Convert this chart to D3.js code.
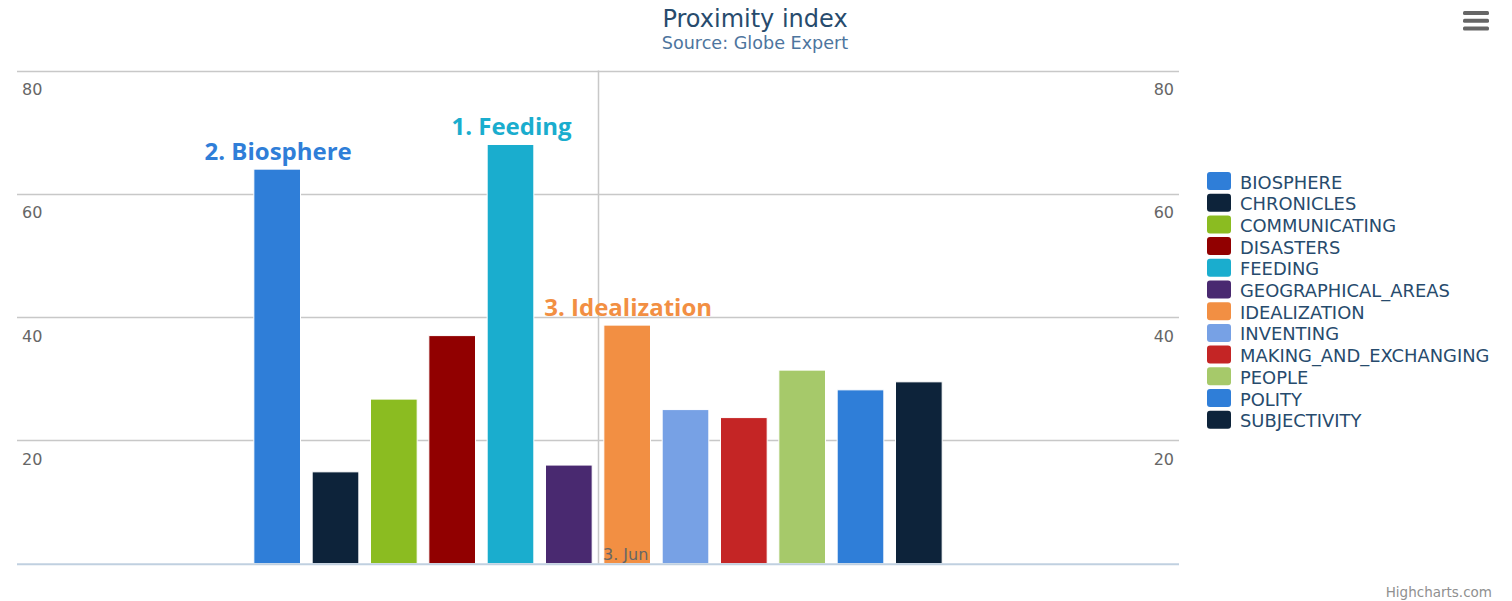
<!DOCTYPE html>
<html>
<head>
<meta charset="utf-8">
<script src="https://cdn.jsdelivr.net/npm/d3@7"></script>
<style>
  html, body { margin: 0; padding: 0; background: #ffffff; }
  svg { display: block; }
  text { font-family: "DejaVu Sans", "Lucida Grande", sans-serif; }
</style>
</head>
<body>
<svg id="chart" width="1512" height="601"></svg>
<script>
// ---- data ----
const categories = ["3. Jun"];
const seriesNames = ["BIOSPHERE", "CHRONICLES", "COMMUNICATING", "DISASTERS", "FEEDING",
  "GEOGRAPHICAL_AREAS", "IDEALIZATION", "INVENTING", "MAKING_AND_EXCHANGING", "PEOPLE",
  "POLITY", "SUBJECTIVITY"];
const seriesValues = [64.0, 14.9, 26.7, 37.0, 68.0, 16.0, 38.7, 25.0, 23.7, 31.4, 28.2, 29.5];
const seriesColors = ["#2f7ed8", "#0d233a", "#8bbc21", "#910000", "#1aadce", "#492970",
  "#f28f43", "#77a1e5", "#c42525", "#a6c96a", "#2f7ed8", "#0d233a"];
const yTicks = [20, 40, 60, 80];
const annotationSeries = ["BIOSPHERE", "FEEDING", "IDEALIZATION"];
const annotationTexts = ["2. Biosphere", "1. Feeding", "3. Idealization"];
const titleText = "Proximity index";
const subtitleText = "Source: Globe Expert";
const creditText = "Highcharts.com";

// ---- layout ----
const W = 1512, H = 601;
const plot = { left: 17, right: 1179, top: 70.5, bottom: 563.7 };

const svg = d3.select("#chart");

const y = d3.scaleLinear().domain([0, 80]).range([plot.bottom, plot.top]);
const x0 = d3.scaleBand().domain(categories).range([plot.left, plot.right])
  .paddingInner(0).paddingOuter(0.33);
const x1 = d3.scaleBand().domain(seriesNames).range([0, x0.bandwidth()])
  .paddingInner(0.2).paddingOuter(0.1);
const color = d3.scaleOrdinal().domain(seriesNames).range(seriesColors);

const data = seriesNames.map((n, i) => ({ name: n, value: seriesValues[i], cat: categories[0] }));

// gridlines (horizontal)
const gGrid = svg.append("g");
gGrid.selectAll("line.h").data(yTicks).join("line")
  .attr("x1", plot.left).attr("x2", plot.right)
  .attr("y1", d => Math.round(y(d)) + 0.5).attr("y2", d => Math.round(y(d)) + 0.5)
  .attr("stroke", "#c8c8c8").attr("stroke-width", 1.5);

// vertical x gridline at category tick
const tickX = x0(categories[0]) + x0.bandwidth() / 2;
gGrid.append("line")
  .attr("x1", Math.round(tickX) + 0.5).attr("x2", Math.round(tickX) + 0.5)
  .attr("y1", plot.top).attr("y2", plot.bottom)
  .attr("stroke", "#c8c8c8").attr("stroke-width", 1.5);

// y axis labels (left & right) via d3 axes
const leftAxis = d3.axisLeft(y).tickValues(yTicks).tickSize(0);
const gL = svg.append("g").attr("transform", `translate(${plot.left},0)`).call(leftAxis);
gL.select(".domain").remove();
gL.selectAll("text").attr("x", 5).attr("dy", "1.5em").attr("text-anchor", "start")
  .attr("fill", "#666").style("font-size", "16px").style("font-family", "DejaVu Sans");

const rightAxis = d3.axisRight(y).tickValues(yTicks).tickSize(0);
const gR = svg.append("g").attr("transform", `translate(${plot.right},0)`).call(rightAxis);
gR.select(".domain").remove();
gR.selectAll("text").attr("x", -5).attr("dy", "1.5em").attr("text-anchor", "end")
  .attr("fill", "#666").style("font-size", "16px").style("font-family", "DejaVu Sans");

// bars
svg.append("g").selectAll("rect").data(data).join("rect")
  .attr("x", d => x0(d.cat) + x1(d.name))
  .attr("width", x1.bandwidth())
  .attr("y", d => y(d.value))
  .attr("height", d => y(0) - y(d.value))
  .attr("fill", d => color(d.name))
  .attr("stroke", "#ffffff").attr("stroke-width", 1);

// x axis line
svg.append("line")
  .attr("x1", plot.left).attr("x2", plot.right)
  .attr("y1", plot.bottom + 0.5).attr("y2", plot.bottom + 0.5)
  .attr("stroke", "#c0d0e0").attr("stroke-width", 2);

// x axis label
const xAxis = d3.axisBottom(x0).tickSize(0);
const gX = svg.append("g").attr("transform", `translate(0,${plot.bottom})`).call(xAxis);
gX.select(".domain").remove();
gX.selectAll("text").attr("x", 5).attr("y", -4).attr("dy", 0).attr("text-anchor", "start")
  .attr("fill", "#666").style("font-size", "16px").style("font-family", "DejaVu Sans");

// annotations
const ann = annotationSeries.map((s, i) => ({ name: s, text: annotationTexts[i],
  value: seriesValues[seriesNames.indexOf(s)] }));
svg.append("g").selectAll("text").data(ann).join("text")
  .attr("x", d => x0(categories[0]) + x1(d.name) + x1.bandwidth() / 2 + 1)
  .attr("y", d => y(d.value) - 9)
  .attr("text-anchor", "middle")
  .attr("fill", d => color(d.name))
  .style("font-family", "'Open Sans', sans-serif")
  .style("font-weight", "bold")
  .style("font-size", "24px")
  .text(d => d.text);

// title
svg.append("text").attr("x", 755).attr("y", 27).attr("text-anchor", "middle")
  .attr("fill", "#274b6d").style("font-size", "24px").text(titleText);
svg.append("text").attr("x", 755).attr("y", 49).attr("text-anchor", "middle")
  .attr("fill", "#4d759e").style("font-size", "17.6px").text(subtitleText);

// legend
const legend = svg.append("g").attr("transform", "translate(1207,172)");
const items = legend.selectAll("g").data(seriesNames).join("g")
  .attr("transform", (d, i) => `translate(0,${i * 21.7})`);
items.append("rect").attr("x", 0).attr("y", 0).attr("width", 24).attr("height", 18)
  .attr("rx", 3).attr("fill", d => color(d));
items.append("text").attr("x", 33).attr("y", 16.5).attr("fill", "#274b6d")
  .style("font-size", "17.9px").text(d => d);

// menu icon
const menu = svg.append("g").attr("transform", "translate(1463,11)");
[0, 7.8, 15.6].forEach(dy => {
  menu.append("rect").attr("x", 0).attr("y", dy).attr("width", 26).attr("height", 4)
    .attr("rx", 1.5).attr("fill", "#666");
});

// credit
svg.append("text").attr("x", 1492).attr("y", 597).attr("text-anchor", "end")
  .attr("fill", "#909090").style("font-size", "13.5px").text(creditText);
</script>
</body>
</html>
